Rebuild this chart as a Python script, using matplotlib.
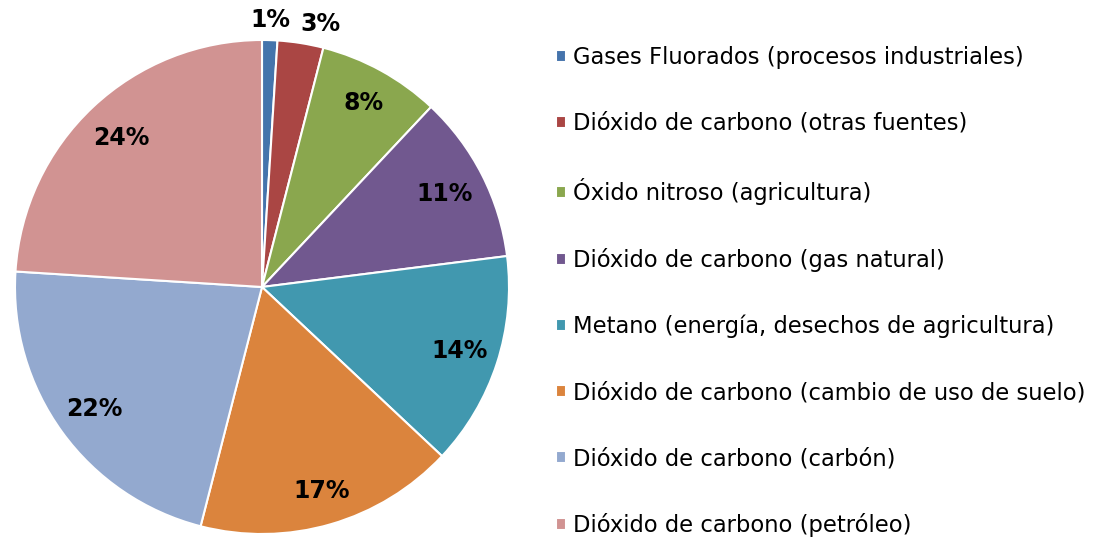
import matplotlib

matplotlib.use("Agg")
import matplotlib.pyplot as plt
import numpy as np

# Datos: emisiones de gases de efecto invernadero por fuente (%)
categorias = [
    "Gases Fluorados (procesos industriales)",
    "Dióxido de carbono (otras fuentes)",
    "Óxido nitroso (agricultura)",
    "Dióxido de carbono (gas natural)",
    "Metano (energía, desechos de agricultura)",
    "Dióxido de carbono (cambio de uso de suelo)",
    "Dióxido de carbono (carbón)",
    "Dióxido de carbono (petróleo)",
]
porcentajes = [1, 3, 8, 11, 14, 17, 22, 24]
colores = ["#4574AC", "#AA4644", "#8AA74E", "#71588F",
           "#4198AF", "#DB843D", "#93A9CF", "#D19392"]

# Distancia radial de cada etiqueta (las pequeñas van fuera)
dist_etiqueta = [1.08, 1.09, 0.85, 0.83, 0.84, 0.86, 0.84, 0.83]
giro_etiqueta = [0, -3.5, 0, 0, 0, 0, 0, 0]  # grados, ajuste fino

W, H = 1118, 537
fig = plt.figure(figsize=(W / 100, H / 100), dpi=100)
ax = fig.add_axes([0, 0, 1, 1])

cx, cy, R = 262, H - 287, 247
wedges, _ = ax.pie(porcentajes, colors=colores, startangle=90,
                   counterclock=False, center=(cx, cy), radius=R,
                   wedgeprops=dict(edgecolor="white", linewidth=1.5),
                   frame=True)
ax.set_xlim(0, W)
ax.set_ylim(0, H)
ax.set_aspect("equal")
ax.axis("off")

for w, p, d, g in zip(wedges, porcentajes, dist_etiqueta, giro_etiqueta):
    ang = np.deg2rad((w.theta1 + w.theta2) / 2 + g)
    ax.text(cx + d * R * np.cos(ang), cy + d * R * np.sin(ang), f"{p}%",
            ha="center", va="center", fontsize=17, fontweight="bold",
            color="black")

fig.legend(wedges, categorias, loc="upper left",
           bbox_to_anchor=(556 / W, 1 - 46 / H), frameon=False,
           fontsize=16.3, handlelength=0.45, handleheight=0.45,
           handletextpad=0.3, labelspacing=1.898, borderaxespad=0,
           borderpad=0)

fig.savefig("out.png", dpi=100)
